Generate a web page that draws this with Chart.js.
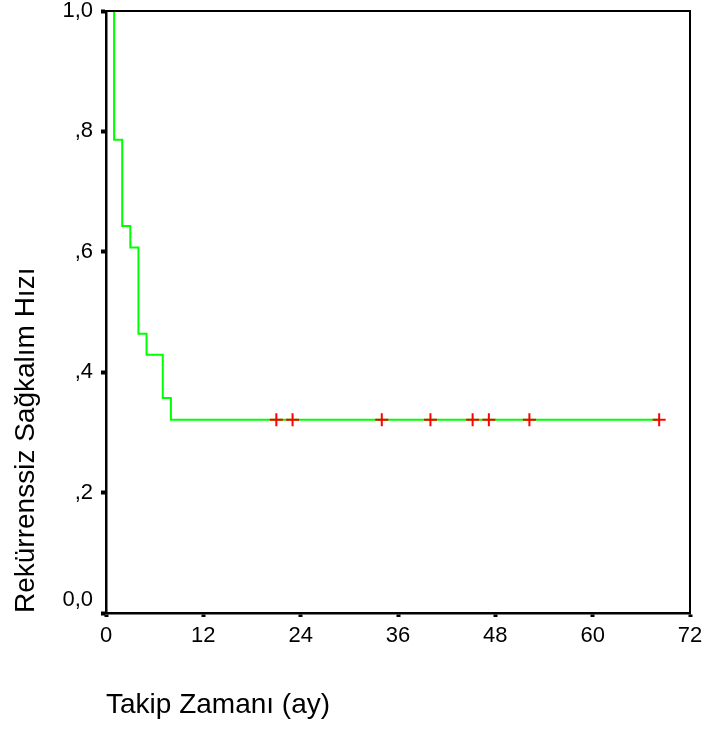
<!DOCTYPE html>
<html>
<head>
<meta charset="utf-8">
<title>Rekürrenssiz Sağkalım</title>
<script src="https://cdn.jsdelivr.net/npm/chart.js@4"></script>
<style>
  body { margin: 0; background: #fff; }
</style>
</head>
<body>
<canvas id="myChart" width="708" height="731"></canvas>
<script>
// Kaplan-Meier basamaklari (ay, olasilik)
var survTimes = [0, 1, 2, 3, 4, 5, 7, 8, 68.2];
var survValues = [1, 0.786, 0.643, 0.607, 0.464, 0.429, 0.357, 0.321, 0.321];

// sansurlu gozlemler
var censorTimes = [21, 23, 34, 40, 45.2, 47.2, 52.2, 68.2];
var censorValues = [0.321, 0.321, 0.321, 0.321, 0.321, 0.321, 0.321, 0.321];

// eksen etiketleri
var xTickLabels = ['0', '12', '24', '36', '48', '60', '72'];
var yTickLabels = [['0,0', ''], ',2', ',4', ',6', ',8', '1,0'];

var survPoints = survTimes.map(function(t, i) { return {x: t, y: survValues[i]}; });
var censorPoints = censorTimes.map(function(t, i) { return {x: t, y: censorValues[i]}; });

// ust ve sag cerceve
var frame = {
  id: 'frame',
  afterDatasetsDraw: function(chart) {
    var a = chart.chartArea;
    var ctx = chart.ctx;
    ctx.save();
    ctx.strokeStyle = '#000';
    ctx.lineWidth = 2;
    ctx.beginPath();
    ctx.moveTo(a.left, a.top);
    ctx.lineTo(a.right, a.top);
    ctx.lineTo(a.right, a.bottom);
    ctx.stroke();
    ctx.restore();
  }
};

var ctx = document.getElementById('myChart').getContext('2d');
var chart = new Chart(ctx, {
  type: 'scatter',
  data: {
    datasets: [{
      type: 'line',
      data: survPoints,
      order: 1,
      borderColor: 'rgb(0, 255, 0)',
      borderWidth: 2,
      stepped: true,
      pointRadius: 0,
      fill: false
    }, {
      data: censorPoints,
      order: 0,
      pointStyle: 'cross',
      pointRadius: 6.5,
      borderColor: 'rgb(255, 0, 0)',
      borderWidth: 2,
      backgroundColor: 'rgb(255, 0, 0)'
    }]
  },
  options: {
    responsive: false,
    devicePixelRatio: 1,
    animation: false,
    layout: {
      padding: { left: 0, top: 11, right: 18, bottom: 0 }
    },
    plugins: {
      legend: { display: false },
      tooltip: { enabled: false }
    },
    scales: {
      x: {
        type: 'linear',
        min: 0,
        max: 72,
        afterFit: function(scale) {
          scale.height = 118;
          scale.paddingLeft = 0;
          scale.paddingRight = 0;
        },
        ticks: {
          stepSize: 12,
          autoSkip: false,
          maxRotation: 0,
          color: '#000',
          padding: 6,
          font: { family: 'Arial, "Liberation Sans", sans-serif', size: 22 },
          callback: function(value, index) { return xTickLabels[index]; }
        },
        grid: {
          drawOnChartArea: false,
          tickLength: 4,
          tickWidth: 4,
          color: '#000'
        },
        border: { display: true, color: '#000', width: 2.5 },
        title: {
          display: true,
          text: 'Takip Zamanı (ay)',
          align: 'start',
          color: '#000',
          padding: { top: 0, bottom: 9 },
          font: { family: 'Arial, "Liberation Sans", sans-serif', size: 28 }
        }
      },
      y: {
        type: 'linear',
        min: 0,
        max: 1,
        afterFit: function(scale) {
          scale.width = 106;
          scale.paddingTop = 0;
          scale.paddingBottom = 0;
        },
        ticks: {
          stepSize: 0.2,
          color: '#000',
          padding: 8,
          font: { family: 'Arial, "Liberation Sans", sans-serif', size: 22 },
          callback: function(value, index) { return yTickLabels[index]; }
        },
        grid: {
          drawOnChartArea: false,
          tickLength: 5,
          tickWidth: 4,
          color: '#000'
        },
        border: { display: true, color: '#000', width: 2.5 },
        title: {
          display: true,
          text: 'Rekürrenssiz Sağkalım Hızı',
          align: 'start',
          color: '#000',
          padding: { top: 9, bottom: 0 },
          font: { family: 'Arial, "Liberation Sans", sans-serif', size: 28 }
        }
      }
    }
  },
  plugins: [frame]
});
</script>
</body>
</html>
